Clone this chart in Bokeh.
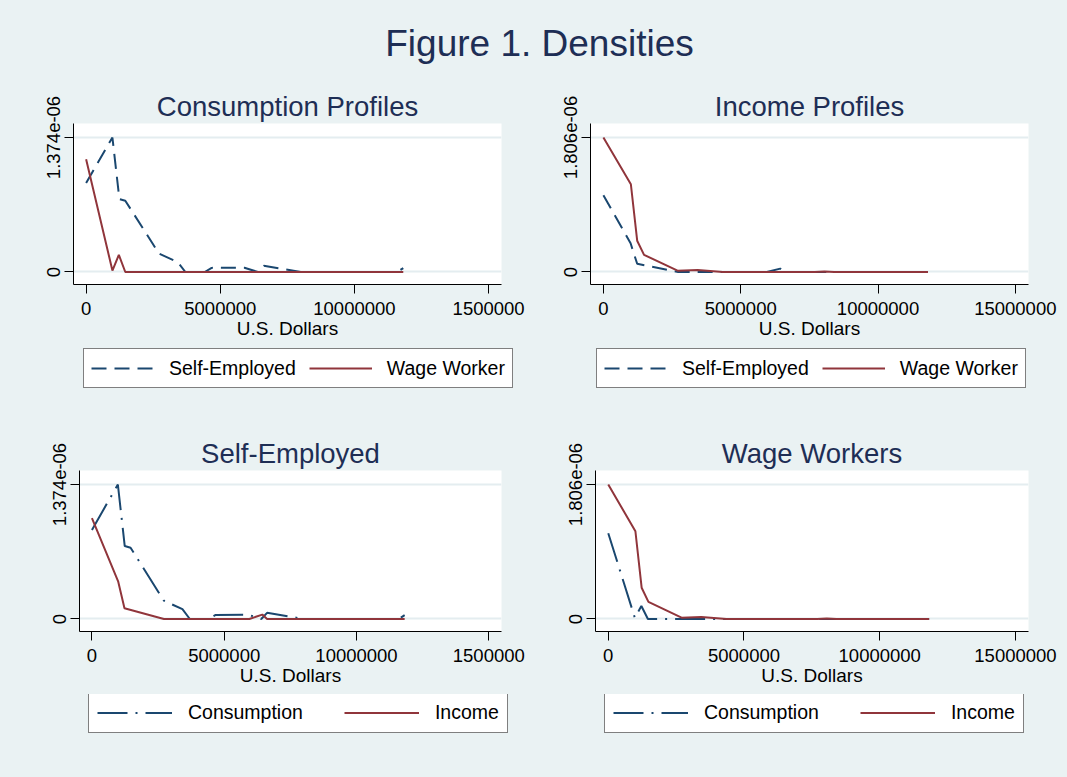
from bokeh.plotting import figure
from bokeh.layouts import column, row
from bokeh.models import Range1d, FixedTicker, Legend, LegendItem, Label
from bokeh.embed import file_html
from bokeh.resources import INLINE

# ---------------- data ----------------
se_cons_x = [0, 0.98e6, 1.24e6, 1.46e6, 2.72e6, 3.42e6, 3.70e6, 4.42e6, 4.68e6,
             5.90e6, 6.40e6, 6.62e6, 8.00e6, 11.60e6, 11.82e6]
se_cons_y = [9.10e-7, 1.374e-6, 7.45e-7, 7.28e-7, 1.87e-7, 1.00e-7, 0.0, 0.0, 4.2e-8,
             4.4e-8, 0.0, 6.3e-8, 0.0, 0.0, 4.0e-8]

ww_cons_x = [0, 0.98e6, 1.22e6, 1.46e6, 11.82e6]
ww_cons_y = [1.152e-6, 1.5e-8, 1.74e-7, 0.0, 0.0]

se_inc_x = [0, 0.99e6, 1.23e6, 2.72e6, 5.95e6, 6.44e6, 6.62e6, 11.82e6]
se_inc_y = [1.030e-6, 3.85e-7, 1.10e-7, 0.0, 0.0, 4.5e-8, 0.0, 0.0]

ww_inc_x = [0, 1.00e6, 1.23e6, 1.48e6, 2.70e6, 3.43e6, 4.35e6, 7.70e6, 8.05e6, 8.40e6, 11.82e6]
ww_inc_y = [1.806e-6, 1.178e-6, 4.20e-7, 2.30e-7, 1.8e-8, 2.8e-8, 0.0, 0.0, 6e-9, 0.0, 0.0]

x_ticks = [0, 5000000, 10000000, 15000000]
x_labels_left = ["0", "5000000", "10000000", "1500000"]
x_labels_right = ["0", "5000000", "10000000", "15000000"]

cons_ymax = 1.374e-6
cons_ylabel = "1.374e-06"
inc_ymax = 1.806e-6
inc_ylabel = "1.806e-06"

main_title = "Figure 1. Densities"
titles = ["Consumption Profiles", "Income Profiles", "Self-Employed", "Wage Workers"]
x_title = "U.S. Dollars"

# ---------------- style ----------------
BG = "#eaf2f3"
NAVY = "#1a476f"
MAROON = "#90353b"
TITLE_C = "#1e2e55"
FONT = "Liberation Sans"
XLO, XHI = -0.47e6, 15.48e6
DASH = "15 8"
DASHDOT = "30 8 2 8"


def panel(title, ymax, ylabel, xlabels, series, width, height, bl, br, bt, bb):
    p = figure(width=width, height=height,
               x_range=Range1d(XLO, XHI),
               y_range=Range1d(-0.093 * ymax, 1.104 * ymax),
               output_backend="svg", toolbar_location=None,
               min_border_left=bl, min_border_right=br,
               min_border_top=bt, min_border_bottom=bb)
    p.background_fill_color = "white"
    p.border_fill_color = BG
    p.outline_line_color = None

    p.title.text = title
    p.title.align = "center"
    p.title.text_font = FONT
    p.title.text_font_size = "27.5px"
    p.title.text_font_style = "normal"
    p.title.text_color = TITLE_C
    p.title.standoff = 4

    p.xaxis.ticker = FixedTicker(ticks=x_ticks)
    p.xaxis.major_label_overrides = dict(zip(x_ticks, xlabels))
    p.xaxis.axis_label = x_title
    p.yaxis.ticker = FixedTicker(ticks=[0, ymax])
    p.yaxis.major_label_overrides = {0: "0", ymax: ylabel}
    p.yaxis.major_label_orientation = "vertical"

    for ax in (p.xaxis[0], p.yaxis[0]):
        ax.axis_line_color = "black"
        ax.axis_line_width = 1
        ax.major_tick_line_color = "black"
        ax.major_tick_out = 9
        ax.major_tick_in = 0
        ax.minor_tick_out = 0
        ax.minor_tick_in = 0
        ax.major_label_text_font = FONT
        ax.major_label_text_font_size = "18.5px"
        ax.major_label_text_color = "black"
        ax.axis_label_text_font = FONT
        ax.axis_label_text_font_size = "19px"
        ax.axis_label_text_font_style = "normal"
        ax.axis_label_text_color = "black"
    p.xaxis.major_label_standoff = 8
    p.xaxis.axis_label_standoff = 0
    p.yaxis.major_label_standoff = 4

    p.xgrid.visible = False
    p.ygrid.grid_line_color = "#e4edf0"
    p.ygrid.grid_line_width = 2

    for (xs, ys, color, dash, label) in series:
        p.line(xs, ys, line_color=color, line_width=2, line_dash=dash)
    return p


def legend_fig(series, width, height, vx, top_off, glyph_w, standoff, spacing, pad, lab_h):
    # legend strip: the series are drawn outside its (hidden) ranges, only the legend shows
    f = figure(width=width, height=height,
               x_range=Range1d(-3e7, -2e7), y_range=Range1d(0, 1),
               output_backend="svg", toolbar_location=None,
               x_axis_location=None, y_axis_location=None, min_border=0)
    f.grid.visible = False
    f.outline_line_color = None
    f.background_fill_color = BG
    f.border_fill_color = BG
    items = []
    for (xs, ys, color, dash, label) in series:
        r = f.line(xs, ys, line_color=color, line_width=2, line_dash=dash)
        items.append(LegendItem(label=label, renderers=[r]))
    leg_h = 2 * pad + lab_h
    leg = Legend(items=items, orientation="horizontal",
                 location=(vx, height - top_off - leg_h),
                 glyph_width=glyph_w, glyph_height=lab_h, label_height=lab_h,
                 label_standoff=standoff, spacing=spacing, padding=pad, margin=0,
                 border_line_color="black", border_line_width=1,
                 background_fill_color="white", background_fill_alpha=1.0,
                 label_text_font=FONT, label_text_font_size="19.5px",
                 label_text_color="black")
    f.add_layout(leg, "center")
    return f


s1 = [(se_cons_x, se_cons_y, NAVY, DASH, "Self-Employed"),
      (ww_cons_x, ww_cons_y, MAROON, "solid", "Wage Worker")]
s2 = [(se_inc_x, se_inc_y, NAVY, DASH, "Self-Employed"),
      (ww_inc_x, ww_inc_y, MAROON, "solid", "Wage Worker")]
s3 = [(se_cons_x, se_cons_y, NAVY, DASHDOT, "Consumption"),
      (se_inc_x, se_inc_y, MAROON, "solid", "Income")]
s4 = [(ww_cons_x, ww_cons_y, NAVY, DASHDOT, "Consumption"),
      (ww_inc_x, ww_inc_y, MAROON, "solid", "Income")]

p1 = panel(titles[0], cons_ymax, cons_ylabel, x_labels_left, s1, 540, 268, 73, 39, 43, 64)
p2 = panel(titles[1], inc_ymax, inc_ylabel, x_labels_right, s2, 527, 268, 50, 39, 43, 64)
p3 = panel(titles[2], cons_ymax, cons_ylabel, x_labels_left, s3, 540, 269, 79, 39, 45, 63)
p4 = panel(titles[3], inc_ymax, inc_ylabel, x_labels_right, s4, 527, 269, 55, 39, 45, 63)

l1 = legend_fig(s1, 540, 77, 83, 2, 63, 15, 13, 7, 24)
l2 = legend_fig(s2, 527, 77, 56, 2, 63, 15, 13, 7, 24)
l3 = legend_fig(s3, 540, 83, 88, 2, 75, 16, 41, 8, 21)
l4 = legend_fig(s4, 527, 83, 64, 2, 75, 16, 41, 8, 21)

t = figure(width=1067, height=80, x_range=Range1d(0, 1), y_range=Range1d(0, 1),
           output_backend="svg", toolbar_location=None,
           x_axis_location=None, y_axis_location=None,
           min_border=0)
t.grid.visible = False
t.outline_line_color = None
t.background_fill_color = BG
t.border_fill_color = BG
t.add_layout(Label(x=539, y=37, x_units="screen", y_units="screen", text=main_title,
                   text_align="center", text_baseline="alphabetic",
                   text_font=FONT, text_font_size="37px", text_color=TITLE_C))

layout = column(t,
                row(p1, p2),
                row(l1, l2),
                row(p3, p4),
                row(l3, l4))

html = file_html(layout, INLINE)
html = html.replace("</head>",
                    "<style>html,body{margin:0;padding:0;background-color:#eaf2f3;}</style></head>", 1)
open("out.html", "w").write(html)
